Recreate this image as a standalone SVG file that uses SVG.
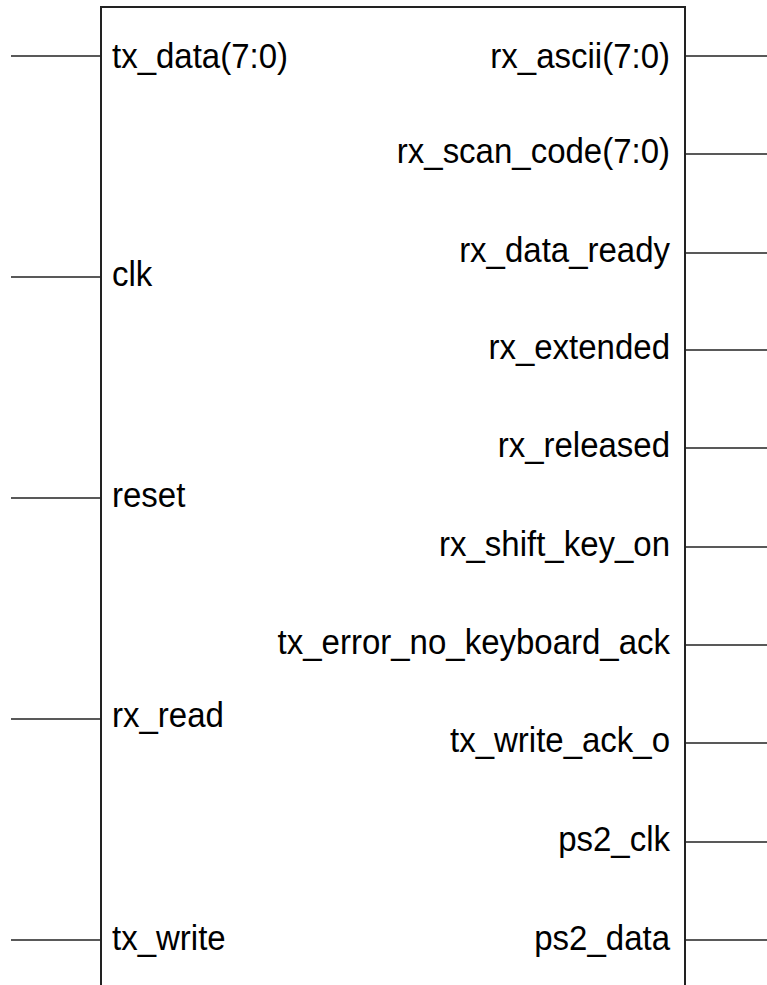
<svg xmlns="http://www.w3.org/2000/svg" width="767" height="985" viewBox="0 0 767 985">
<style>
.box{fill:#fff;stroke:#222;stroke-width:2}
.pin{stroke:#222;stroke-width:1.5}
text{font-family:"Liberation Sans",Arial,sans-serif;font-size:33px;fill:#000}
.r{text-anchor:end}
</style>
<rect width="767" height="985" fill="#fff"/>
<g id="block">
<path class="box" d="M101,995 L101,7 L685,7 L685,995"/>
</g>
<g id="connectors">
<line class="pin" x1="11" y1="56" x2="101" y2="56"/>
<line class="pin" x1="11" y1="277" x2="101" y2="277"/>
<line class="pin" x1="11" y1="498" x2="101" y2="498"/>
<line class="pin" x1="11" y1="719" x2="101" y2="719"/>
<line class="pin" x1="11" y1="940" x2="101" y2="940"/>
<line class="pin" x1="685" y1="56" x2="767" y2="56"/>
<line class="pin" x1="685" y1="154" x2="767" y2="154"/>
<line class="pin" x1="685" y1="253" x2="767" y2="253"/>
<line class="pin" x1="685" y1="350" x2="767" y2="350"/>
<line class="pin" x1="685" y1="448" x2="767" y2="448"/>
<line class="pin" x1="685" y1="547" x2="767" y2="547"/>
<line class="pin" x1="685" y1="645" x2="767" y2="645"/>
<line class="pin" x1="685" y1="743" x2="767" y2="743"/>
<line class="pin" x1="685" y1="842" x2="767" y2="842"/>
<line class="pin" x1="685" y1="940" x2="767" y2="940"/>
</g>
<g id="in_tx_data"><text transform="translate(112 68) scale(1 1.08)">tx_data(7:0)</text></g>
<g id="in_clk"><text transform="translate(112 286) scale(1 1.08)">clk</text></g>
<g id="in_reset"><text transform="translate(112 507) scale(1 1.08)">reset</text></g>
<g id="in_rx_read"><text transform="translate(112 727) scale(1 1.08)">rx_read</text></g>
<g id="in_tx_write"><text transform="translate(112 950) scale(1 1.08)">tx_write</text></g>
<g id="out_rx_ascii"><text class="r" transform="translate(670 68) scale(1 1.08)">rx_ascii(7:0)</text></g>
<g id="out_rx_scan_code"><text class="r" transform="translate(670 163) scale(1 1.08)">rx_scan_code(7:0)</text></g>
<g id="out_rx_data_ready"><text class="r" transform="translate(670 262) scale(1 1.08)">rx_data_ready</text></g>
<g id="out_rx_extended"><text class="r" transform="translate(670 359) scale(1 1.08)">rx_extended</text></g>
<g id="out_rx_released"><text class="r" transform="translate(670 457) scale(1 1.08)">rx_released</text></g>
<g id="out_rx_shift_key_on"><text class="r" transform="translate(670 556) scale(1 1.08)">rx_shift_key_on</text></g>
<g id="out_tx_error_no_keyboard_ack"><text class="r" transform="translate(670 654) scale(1 1.08)">tx_error_no_keyboard_ack</text></g>
<g id="out_tx_write_ack_o"><text class="r" transform="translate(670 752) scale(1 1.08)">tx_write_ack_o</text></g>
<g id="out_ps2_clk"><text class="r" transform="translate(670 851) scale(1 1.08)">ps2_clk</text></g>
<g id="out_ps2_data"><text class="r" transform="translate(670 950) scale(1 1.08)">ps2_data</text></g>
</svg>
